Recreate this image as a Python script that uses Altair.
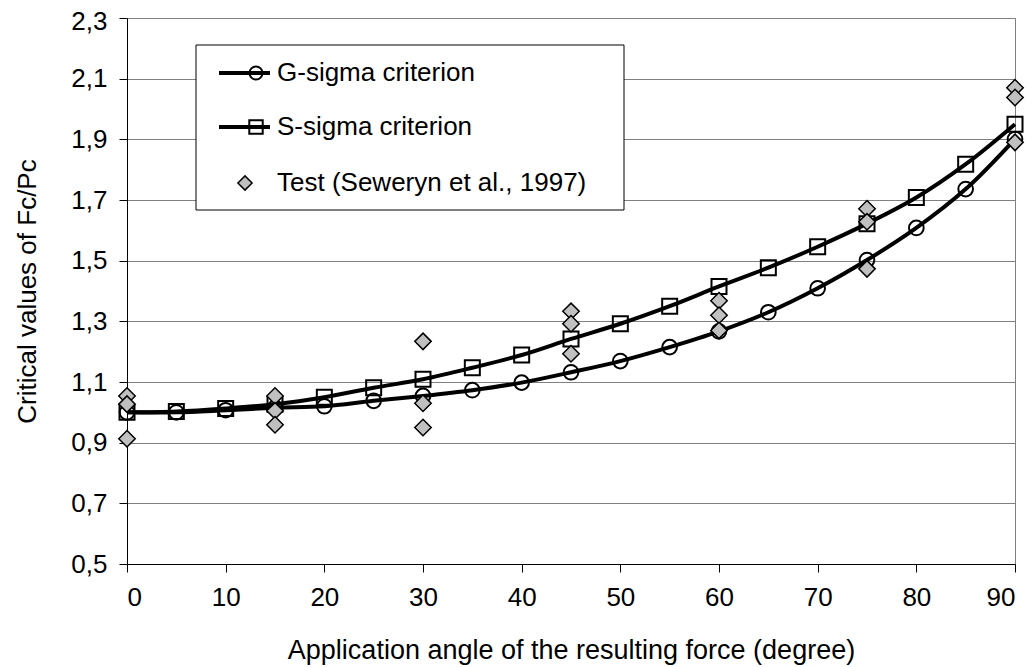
import altair as alt
import pandas as pd

# ---------------- data ----------------
angles = [0, 5, 10, 15, 20, 25, 30, 35, 40, 45, 50, 55, 60, 65, 70, 75, 80, 85, 90]
g_sigma = [1.000, 1.000, 1.007, 1.015, 1.020, 1.038, 1.054, 1.073, 1.098, 1.132,
           1.169, 1.215, 1.267, 1.330, 1.409, 1.502, 1.608, 1.736, 1.901]
s_sigma = [1.000, 1.003, 1.013, 1.027, 1.050, 1.081, 1.109, 1.147, 1.189, 1.242,
           1.292, 1.350, 1.415, 1.477, 1.546, 1.622, 1.708, 1.818, 1.950]
test_angle = [0, 0, 0, 15, 15, 15, 30, 30, 30, 45, 45, 45, 60, 60, 60, 75, 75, 75, 90, 90, 90]
test_value = [1.054, 1.027, 0.913, 1.054, 1.005, 0.959, 1.234, 1.030, 0.950,
              1.333, 1.292, 1.193, 1.368, 1.320, 1.270, 1.671, 1.628, 1.473,
              2.070, 2.038, 1.890]
series_names = ["G-sigma criterion", "S-sigma criterion", "Test (Seweryn et al., 1997)"]
x_ticks = [0, 10, 20, 30, 40, 50, 60, 70, 80, 90]
y_ticks = [0.5, 0.7, 0.9, 1.1, 1.3, 1.5, 1.7, 1.9, 2.1, 2.3]
x_title = "Application angle of the resulting force (degree)"
y_title = "Critical values of Fc/Pc"

FONT = "Liberation Sans"
FS = 26

curves = pd.DataFrame({
    "angle": angles + angles,
    "value": g_sigma + s_sigma,
    "series": [series_names[0]] * len(angles) + [series_names[1]] * len(angles),
})
tests = pd.DataFrame({"angle": test_angle, "value": test_value})

x_enc = alt.X("angle:Q",
              scale=alt.Scale(domain=[0, 90], nice=False, zero=False),
              axis=alt.Axis(values=x_ticks, title=x_title, grid=False,
                            labelPadding=12, titlePadding=27, titleFontSize=27))
y_enc = alt.Y("value:Q",
              scale=alt.Scale(domain=[0.5, 2.3], nice=False, zero=False),
              axis=alt.Axis(values=y_ticks, title=y_title, grid=True,
                            gridColor="#808080", gridWidth=1,
                            labelExpr="replace(format(datum.value, '.1f'), '.', ',')",
                            labelOffset={"condition": {"test": "datum.value > 2.2", "value": 3},
                                         "value": 0},
                            labelPadding=12, titlePadding=30))

lines = alt.Chart(curves).mark_line(
    color="black", strokeWidth=4, interpolate="catmull-rom"
).encode(x=x_enc, y=y_enc, detail="series:N")

g_pts = alt.Chart(curves).transform_filter(
    alt.datum.series == series_names[0]
).mark_point(shape="circle", size=215, filled=False, stroke="black",
             strokeWidth=2, opacity=1).encode(x=x_enc, y=y_enc)

s_pts = alt.Chart(curves).transform_filter(
    alt.datum.series == series_names[1]
).mark_point(shape="square", size=225, filled=False, stroke="black",
             strokeWidth=2, opacity=1).encode(x=x_enc, y=y_enc)

t_pts = alt.Chart(tests).mark_point(
    shape="diamond", size=270, filled=True, fill="#c0c0c0", stroke="black",
    strokeWidth=1.5, opacity=1
).encode(x=x_enc, y=y_enc)

# ---------------- legend (drawn manually) ----------------
one = pd.DataFrame({"k": [0]})
leg_box = alt.Chart(one).mark_rect(fill="white", stroke="black", strokeWidth=1).encode(
    x=alt.value(69), x2=alt.value(497), y=alt.value(27), y2=alt.value(192))
leg_rows = [55, 109, 165]
legend_layers = [leg_box]
for yy in leg_rows[:2]:
    legend_layers.append(alt.Chart(one).mark_rule(color="black", strokeWidth=4).encode(
        x=alt.value(92), x2=alt.value(143), y=alt.value(yy)))
legend_layers.append(alt.Chart(one).mark_point(
    shape="circle", size=170, filled=False, stroke="black", strokeWidth=2, opacity=1
).encode(x=alt.value(129), y=alt.value(leg_rows[0])))
legend_layers.append(alt.Chart(one).mark_point(
    shape="square", size=180, filled=False, stroke="black", strokeWidth=2, opacity=1
).encode(x=alt.value(129), y=alt.value(leg_rows[1])))
legend_layers.append(alt.Chart(one).mark_point(
    shape="diamond", size=200, filled=True, fill="#c0c0c0", stroke="black",
    strokeWidth=1.5, opacity=1
).encode(x=alt.value(118), y=alt.value(leg_rows[2])))
for name, yy in zip(series_names, leg_rows):
    legend_layers.append(alt.Chart(one).mark_text(
        align="left", baseline="middle", font=FONT, fontSize=FS, color="black"
    ).encode(x=alt.value(150), y=alt.value(yy), text=alt.value(name)))

chart = alt.layer(lines, g_pts, s_pts, t_pts, *legend_layers).properties(
    width=888, height=546,
    padding={"left": 119, "top": 10, "right": 13, "bottom": 102},
    autosize=alt.AutoSizeParams(type="none"),
).configure_view(
    stroke="#808080", strokeWidth=1
).configure_axis(
    labelFont=FONT, labelFontSize=FS, labelColor="black",
    titleFont=FONT, titleFontSize=FS, titleFontWeight="normal", titleColor="black",
    domainColor="black", domainWidth=1, tickColor="black", tickSize=8, tickWidth=1,
)

chart.save("out.html", embed_options={"renderer": "svg", "actions": False})
